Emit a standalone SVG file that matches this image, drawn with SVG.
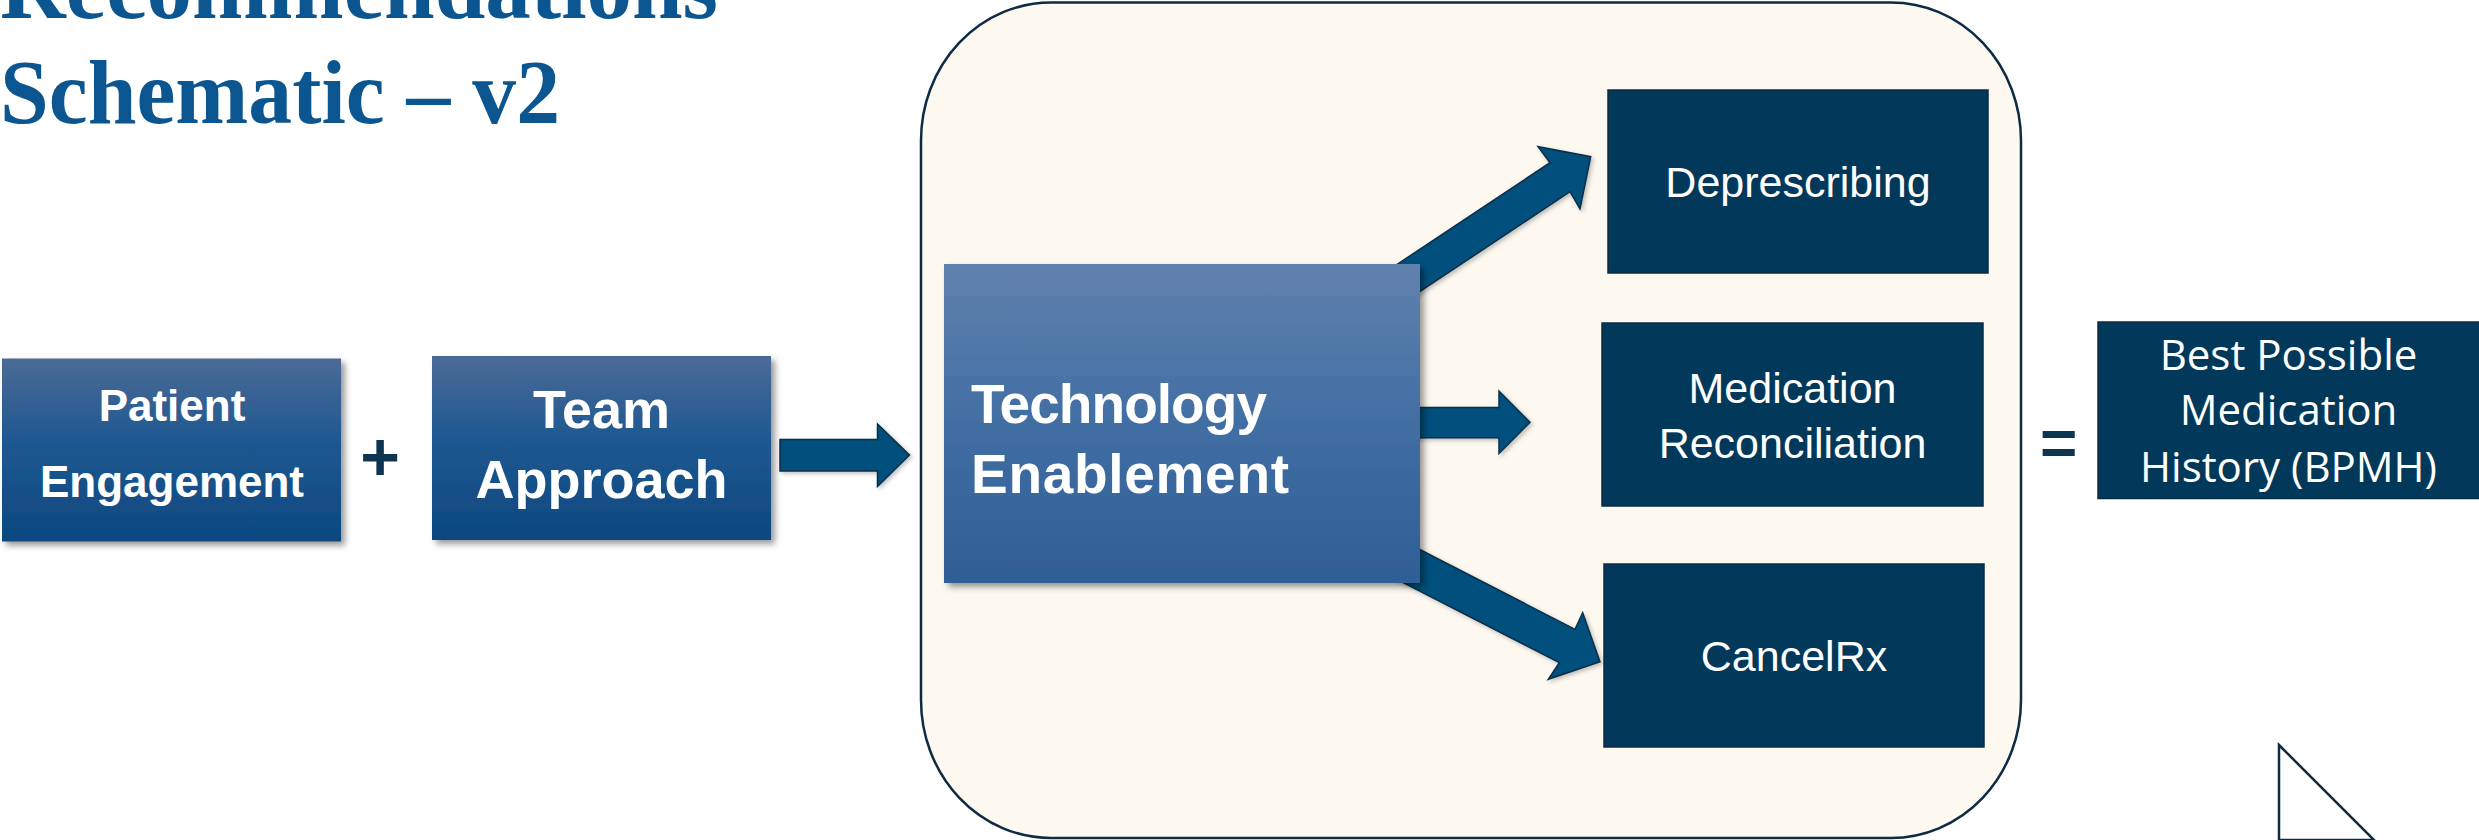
<svg xmlns="http://www.w3.org/2000/svg" width="2479" height="840" viewBox="0 0 2479 840">
  <defs>
    <linearGradient id="gradBlue" x1="0" y1="0" x2="0" y2="1">
      <stop offset="0" stop-color="#4b6b96"/>
      <stop offset="0.45" stop-color="#1f5891"/>
      <stop offset="1" stop-color="#0c487f"/>
    </linearGradient>
    <linearGradient id="gradTech" x1="0" y1="0" x2="0" y2="1">
      <stop offset="0" stop-color="#6182ae"/>
      <stop offset="0.5" stop-color="#416ea3"/>
      <stop offset="1" stop-color="#2e5e95"/>
    </linearGradient>
    <filter id="shadow" x="-10%" y="-10%" width="125%" height="125%">
      <feDropShadow dx="4" dy="4" stdDeviation="3" flood-color="#000000" flood-opacity="0.4"/>
    </filter>
    <filter id="arrowShadow" x="-10%" y="-10%" width="125%" height="125%">
      <feDropShadow dx="2" dy="2" stdDeviation="2" flood-color="#000000" flood-opacity="0.25"/>
    </filter>
  </defs>
  <style>
    .title { font-family: "Liberation Serif", serif; font-weight: bold; font-size: 90px; fill: #0b5591; }
    .grad-label { font-family: "Liberation Sans", Arial, sans-serif; font-weight: bold; fill: #ffffff; }
    .dark-box { fill: #023859; stroke: #0a2b44; stroke-width: 1.5; }
    .dark-label { font-family: "Liberation Sans", Arial, sans-serif; font-size: 43px; fill: #ffffff; text-anchor: middle; }
    .result-label { font-family: "Open Sans", "Liberation Sans", sans-serif; font-size: 42px; fill: #ffffff; text-anchor: middle; }
    .operator { font-family: "Liberation Sans", Arial, sans-serif; font-weight: bold; fill: #0d3451; text-anchor: middle; }
    .arrow { fill: #034f7d; stroke: #0b2d48; stroke-width: 1.5; stroke-linejoin: miter; filter: url(#arrowShadow); }
  </style>

  <rect width="2479" height="840" fill="#ffffff"/>

  <!-- Title -->
  <g id="title">
    <text class="title" x="0" y="18" textLength="718" lengthAdjust="spacingAndGlyphs">Recommendations</text>
    <text class="title" x="0" y="123" textLength="560" lengthAdjust="spacingAndGlyphs">Schematic – v2</text>
  </g>

  <!-- Rounded panel holding the technology outcomes -->
  <g id="panel">
    <rect x="921" y="2.5" width="1100" height="835.5" rx="130" ry="138" fill="#fdf9f1" stroke="#0d2b45" stroke-width="2.5"/>
  </g>

  <!-- Block arrows -->
  <g id="connectors">
    <polygon class="arrow" points="780,439.5 877.5,439.5 877.5,424 909.5,455 877.5,486.5 877.5,471 780,471"/>
    <polygon class="arrow" points="1342,301 1550,162.7 1538,146.7 1590.7,156.7 1580,209 1570,191.7 1362,330"/>
    <polygon class="arrow" points="1380,407.5 1499,407.5 1499,391 1530,422.3 1499,453.5 1499,437.7 1380,437.7"/>
    <polygon class="arrow" points="1352.5,515 1575,629.3 1582.7,612.7 1600,661.7 1548.3,679.3 1559.3,662.7 1337,548.7"/>
  </g>

  <!-- Plus and equals operators -->
  <g id="plus">
    <text class="operator" x="380" y="480" font-size="68">+</text>
  </g>
  <g id="equals">
    <text class="operator" x="2058.7" y="465" font-size="64">=</text>
  </g>

  <!-- Input boxes -->
  <g id="patient-engagement">
    <rect x="2" y="358.5" width="339" height="183" fill="url(#gradBlue)" filter="url(#shadow)"/>
    <text class="grad-label" x="172" y="421" font-size="44" text-anchor="middle">Patient</text>
    <text class="grad-label" x="172" y="497" font-size="44" text-anchor="middle">Engagement</text>
  </g>

  <g id="team-approach">
    <rect x="432" y="356" width="339" height="184" fill="url(#gradBlue)" filter="url(#shadow)"/>
    <text class="grad-label" x="601.5" y="428" font-size="54" text-anchor="middle">Team</text>
    <text class="grad-label" x="601.5" y="498" font-size="54" text-anchor="middle">Approach</text>
  </g>

  <g id="technology-enablement">
    <rect x="944" y="264" width="476" height="319" fill="url(#gradTech)" filter="url(#shadow)"/>
    <text class="grad-label" x="971" y="423" font-size="55" textLength="296">Technology</text>
    <text class="grad-label" x="971" y="493" font-size="55" textLength="318">Enablement</text>
  </g>

  <!-- Outcome boxes -->
  <g id="deprescribing">
    <rect class="dark-box" x="1608" y="90" width="380" height="183"/>
    <text class="dark-label" x="1798" y="197">Deprescribing</text>
  </g>

  <g id="medication-reconciliation">
    <rect class="dark-box" x="1602" y="323" width="381" height="183"/>
    <text class="dark-label" x="1792.5" y="403">Medication</text>
    <text class="dark-label" x="1792.5" y="458">Reconciliation</text>
  </g>

  <g id="cancelrx">
    <rect class="dark-box" x="1604" y="564" width="380" height="183"/>
    <text class="dark-label" x="1794" y="671">CancelRx</text>
  </g>

  <g id="bpmh">
    <rect class="dark-box" x="2098" y="322" width="383" height="176.5"/>
    <text class="result-label" x="2288.5" y="370">Best Possible</text>
    <text class="result-label" x="2288.5" y="425">Medication</text>
    <text class="result-label" x="2288.5" y="482">History (BPMH)</text>
  </g>

  <!-- Corner triangle -->
  <g id="corner-triangle">
    <polygon points="2279,745 2374,840 2279,840" fill="#ffffff" stroke="#0d2b45" stroke-width="2.5"/>
  </g>
</svg>
